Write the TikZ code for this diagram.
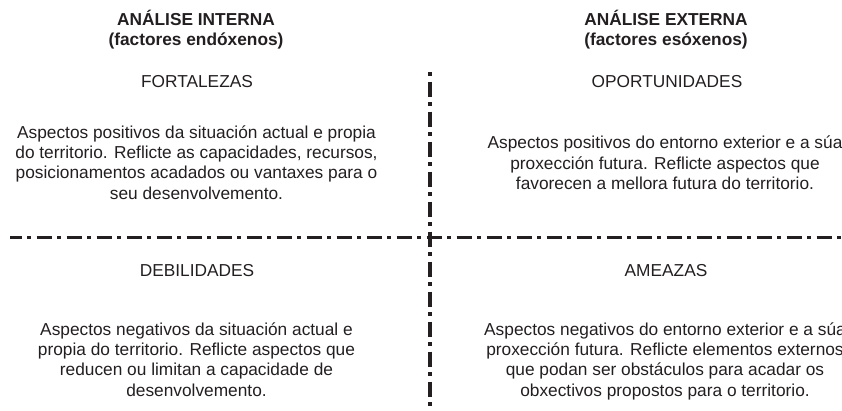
\documentclass[tikz,border=0pt]{standalone}
\usepackage{fontspec}
\setmainfont{Liberation Sans}
\definecolor{ink}{HTML}{231F20}
\begin{document}
\begin{tikzpicture}[x=1pt,y=-1pt,
  txt/.style={inner sep=0pt,anchor=base,align=center,text=ink,
    font=\fontsize{17.3}{20.3}\selectfont},
  head/.style={txt,font=\bfseries\fontsize{17.3}{20}\selectfont},
  divider/.style={draw=ink,line width=3.5pt,
    dash pattern=on 4pt off 5.5pt on 15pt off 5.5pt}]
\useasboundingbox (0,0) rectangle (842,410);
\clip (0,0) rectangle (842,410);
% headings (anchor = baseline of last line)
\node[head] (hl) at (196,45) {ANÁLISE INTERNA\\(factores endóxenos)};
\node[head] (hr) at (666,45) {ANÁLISE EXTERNA\\(factores esóxenos)};
% quadrant titles
\node[txt] (fo) at (197,87) {FORTALEZAS};
\node[txt] (op) at (667,87) {OPORTUNIDADES};
\node[txt] (de) at (197,276) {DEBILIDADES};
\node[txt] (am) at (666,276) {AMEAZAS};
% bodies
\node[txt] (fob) at (196.5,199) {Aspectos positivos da situación actual e propia\\do territorio. Reflicte as capacidades, recursos,\\posicionamentos acadados ou vantaxes para o\\seu desenvolvemento.};
\node[txt] (opb) at (665,189.5) {Aspectos positivos do entorno exterior e a súa\\proxección futura. Reflicte aspectos que\\favorecen a mellora futura do territorio.};
\node[txt] (deb) at (196.5,396) {Aspectos negativos da situación actual e\\propia do territorio. Reflicte aspectos que\\reducen ou limitan a capacidade de\\desenvolvemento.};
\node[txt] (amb) at (665,396) {Aspectos negativos do entorno exterior e a súa\\proxección futura. Reflicte elementos externos\\que podan ser obstáculos para acadar os\\obxectivos propostos para o territorio.};
% dividers
\coordinate (vt) at (430,72);
\coordinate (vb) at (430,412);
\coordinate (hlft) at (10,237.5);
\coordinate (hrgt) at (845,237.5);
\draw[divider] (vt) -- (vb);
\draw[divider,dash phase=13pt] (hlft) -- (hrgt);
\end{tikzpicture}
\end{document}
